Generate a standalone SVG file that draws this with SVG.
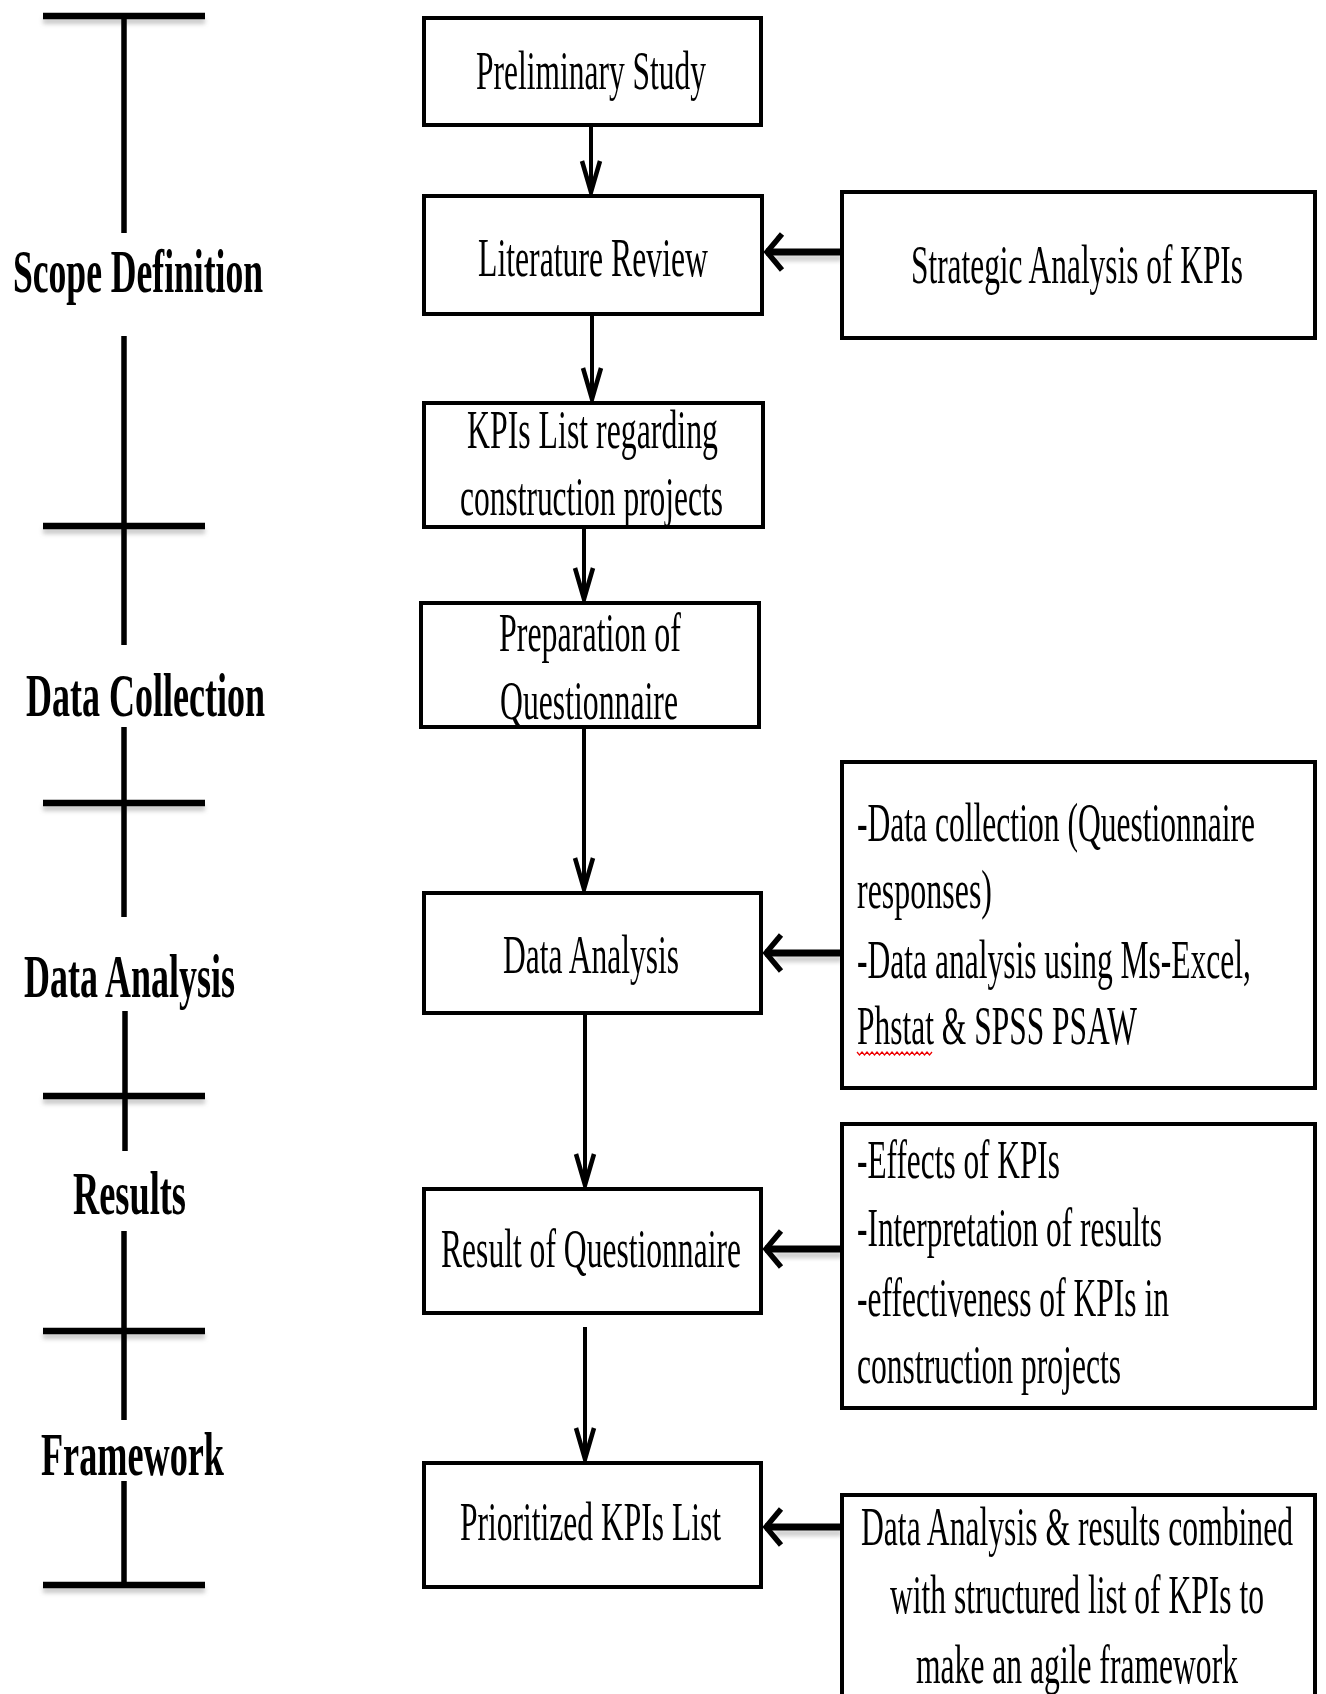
<svg xmlns="http://www.w3.org/2000/svg" width="1326" height="1694" viewBox="0 0 1326 1694">
  <defs>
    <style>
      .box{fill:#fff;stroke:#000;stroke-width:4}
      .t{font-family:"Liberation Serif","Times New Roman",serif;font-size:54px;fill:#000}
      .lbl{font-family:"Liberation Serif","Times New Roman",serif;font-size:62px;font-weight:bold;fill:#000}
      .con{stroke:#000;stroke-width:4;fill:none}
      .thick{stroke:#000;stroke-width:7;fill:none}
      .tl{stroke:#000;stroke-width:5.5}
      .bar{stroke:#000;stroke-width:6.5}
      .barshadow{stroke:#888;stroke-width:6;opacity:0.45}
    </style>
    <filter id="soft" x="-10%" y="-200%" width="120%" height="500%">
      <feGaussianBlur stdDeviation="2"/>
    </filter>
    <marker id="down" markerUnits="userSpaceOnUse" viewBox="-36 -14 40 28" refX="0" refY="0" markerWidth="40" markerHeight="28" orient="auto">
      <path d="M-32,-9 L-1,0 L-32,9" fill="none" stroke="#000" stroke-width="4.5" stroke-linejoin="miter" stroke-miterlimit="10"/>
    </marker>
    <marker id="left" markerUnits="userSpaceOnUse" viewBox="-26 -24 32 48" refX="0" refY="0" markerWidth="32" markerHeight="48" orient="auto">
      <path d="M-16,-18 L-1,0 L-16,18" fill="none" stroke="#000" stroke-width="5.5" stroke-linejoin="miter" stroke-miterlimit="10"/>
    </marker>
  </defs>
  <rect width="1326" height="1694" fill="#fff"/>

  <!-- phase timeline -->
  <g id="timeline">
    <g filter="url(#soft)">
      <line class="barshadow" x1="43" y1="21" x2="205" y2="21"/>
      <line class="barshadow" x1="43" y1="531" x2="205" y2="531"/>
      <line class="barshadow" x1="43" y1="808" x2="205" y2="808"/>
      <line class="barshadow" x1="43" y1="1101" x2="205" y2="1101"/>
      <line class="barshadow" x1="43" y1="1336" x2="205" y2="1336"/>
      <line class="barshadow" x1="43" y1="1590" x2="205" y2="1590"/>
    </g>
    <line class="bar" x1="43" y1="16" x2="205" y2="16"/>
    <line class="bar" x1="43" y1="526" x2="205" y2="526"/>
    <line class="bar" x1="43" y1="803" x2="205" y2="803"/>
    <line class="bar" x1="43" y1="1096" x2="205" y2="1096"/>
    <line class="bar" x1="43" y1="1331" x2="205" y2="1331"/>
    <line class="bar" x1="43" y1="1585" x2="205" y2="1585"/>
    <line class="tl" x1="124" y1="16" x2="124" y2="233"/>
    <line class="tl" x1="124" y1="336" x2="124" y2="645"/>
    <line class="tl" x1="124" y1="727" x2="124" y2="917"/>
    <line class="tl" x1="125" y1="1011" x2="125" y2="1151"/>
    <line class="tl" x1="124" y1="1231" x2="124" y2="1420"/>
    <line class="tl" x1="124" y1="1481" x2="124" y2="1585"/>
  </g>
  <g id="phase-labels">
    <text class="lbl" x="13" y="292" textLength="250" lengthAdjust="spacingAndGlyphs">Scope Definition</text>
    <text class="lbl" x="26" y="716" textLength="239" lengthAdjust="spacingAndGlyphs">Data Collection</text>
    <text class="lbl" x="24" y="997" textLength="211" lengthAdjust="spacingAndGlyphs">Data Analysis</text>
    <text class="lbl" x="73" y="1214" textLength="113" lengthAdjust="spacingAndGlyphs">Results</text>
    <text class="lbl" x="41" y="1475" textLength="183" lengthAdjust="spacingAndGlyphs">Framework</text>
  </g>

  <!-- connectors -->
  <g id="connectors">
    <line class="con" x1="591" y1="125" x2="591" y2="193" marker-end="url(#down)"/>
    <line class="con" x1="592" y1="314" x2="592" y2="400" marker-end="url(#down)"/>
    <line class="con" x1="584" y1="527" x2="584" y2="600" marker-end="url(#down)"/>
    <line class="con" x1="584" y1="727" x2="584" y2="890" marker-end="url(#down)"/>
    <line class="con" x1="585" y1="1013" x2="585" y2="1186" marker-end="url(#down)"/>
    <line class="con" x1="585" y1="1327" x2="585" y2="1460" marker-end="url(#down)"/>
    <g filter="url(#soft)" stroke="#999" stroke-width="6" opacity="0.5">
      <line x1="842" y1="258" x2="775" y2="258"/>
      <line x1="842" y1="959" x2="775" y2="959"/>
      <line x1="842" y1="1255" x2="775" y2="1255"/>
      <line x1="842" y1="1533" x2="775" y2="1533"/>
    </g>
    <line class="thick" x1="842" y1="252" x2="766" y2="252" marker-end="url(#left)"/>
    <line class="thick" x1="842" y1="953" x2="765" y2="953" marker-end="url(#left)"/>
    <line class="thick" x1="842" y1="1249" x2="765" y2="1249" marker-end="url(#left)"/>
    <line class="thick" x1="842" y1="1527" x2="765" y2="1527" marker-end="url(#left)"/>
  </g>

  <!-- main process steps -->
  <g id="preliminary-study">
    <rect class="box" x="424" y="18" width="337" height="107"/>
    <text class="t" x="476" y="89" textLength="230" lengthAdjust="spacingAndGlyphs">Preliminary Study</text>
  </g>
  <g id="literature-review">
    <rect class="box" x="424" y="196" width="338" height="118"/>
    <text class="t" x="478" y="276" textLength="230" lengthAdjust="spacingAndGlyphs">Literature Review</text>
  </g>
  <g id="kpis-list">
    <rect class="box" x="424" y="403" width="339" height="124"/>
    <text class="t" x="467" y="448" textLength="251" lengthAdjust="spacingAndGlyphs">KPIs List regarding</text>
    <text class="t" x="460" y="515" textLength="263" lengthAdjust="spacingAndGlyphs">construction projects</text>
  </g>
  <g id="questionnaire-prep">
    <rect class="box" x="421" y="603" width="338" height="124"/>
    <text class="t" x="499" y="651" textLength="182" lengthAdjust="spacingAndGlyphs">Preparation of</text>
    <text class="t" x="500" y="719" textLength="178" lengthAdjust="spacingAndGlyphs">Questionnaire</text>
  </g>
  <g id="data-analysis">
    <rect class="box" x="424" y="893" width="337" height="120"/>
    <text class="t" x="503" y="973" textLength="176" lengthAdjust="spacingAndGlyphs">Data Analysis</text>
  </g>
  <g id="questionnaire-result">
    <rect class="box" x="424" y="1189" width="337" height="124"/>
    <text class="t" x="441" y="1267" textLength="300" lengthAdjust="spacingAndGlyphs">Result of Questionnaire</text>
  </g>
  <g id="prioritized-kpis">
    <rect class="box" x="424" y="1463" width="337" height="124"/>
    <text class="t" x="460" y="1540" textLength="261" lengthAdjust="spacingAndGlyphs">Prioritized KPIs List</text>
  </g>

  <!-- side inputs -->
  <g id="strategic-analysis">
    <rect class="box" x="842" y="192" width="473" height="146"/>
    <text class="t" x="911" y="283" textLength="332" lengthAdjust="spacingAndGlyphs">Strategic Analysis of KPIs</text>
  </g>
  <g id="collection-tools">
    <rect class="box" x="842" y="762" width="473" height="326"/>
    <text class="t" x="857" y="841" textLength="398" lengthAdjust="spacingAndGlyphs">-Data collection (Questionnaire</text>
    <text class="t" x="857" y="908" textLength="135" lengthAdjust="spacingAndGlyphs">responses)</text>
    <text class="t" x="857" y="978" textLength="394" lengthAdjust="spacingAndGlyphs">-Data analysis using Ms-Excel,</text>
    <text class="t" x="857" y="1044" textLength="280" lengthAdjust="spacingAndGlyphs">Phstat &amp; SPSS PSAW</text>
    <path d="M857,1052 l2.5,3 2.5,-3 2.5,3 2.5,-3 2.5,3 2.5,-3 2.5,3 2.5,-3 2.5,3 2.5,-3 2.5,3 2.5,-3 2.5,3 2.5,-3 2.5,3 2.5,-3 2.5,3 2.5,-3 2.5,3 2.5,-3 2.5,3 2.5,-3 2.5,3 2.5,-3 2.5,3 2.5,-3 2.5,3 2.5,-3 2.5,3 2.5,-3" fill="none" stroke="#e00" stroke-width="1.2"/>
  </g>
  <g id="result-notes">
    <rect class="box" x="842" y="1124" width="473" height="284"/>
    <text class="t" x="857" y="1178" textLength="203" lengthAdjust="spacingAndGlyphs">-Effects of KPIs</text>
    <text class="t" x="857" y="1246" textLength="305" lengthAdjust="spacingAndGlyphs">-Interpretation of results</text>
    <text class="t" x="857" y="1316" textLength="312" lengthAdjust="spacingAndGlyphs">-effectiveness of KPIs in</text>
    <text class="t" x="857" y="1383" textLength="264" lengthAdjust="spacingAndGlyphs">construction projects</text>
  </g>
  <g id="framework-input">
    <rect class="box" x="842" y="1495" width="473" height="230"/>
    <text class="t" x="861" y="1545" textLength="432" lengthAdjust="spacingAndGlyphs">Data Analysis &amp; results combined</text>
    <text class="t" x="890" y="1613" textLength="374" lengthAdjust="spacingAndGlyphs">with structured list of KPIs to</text>
    <text class="t" x="916" y="1683" textLength="322" lengthAdjust="spacingAndGlyphs">make an agile framework</text>
  </g>
</svg>
